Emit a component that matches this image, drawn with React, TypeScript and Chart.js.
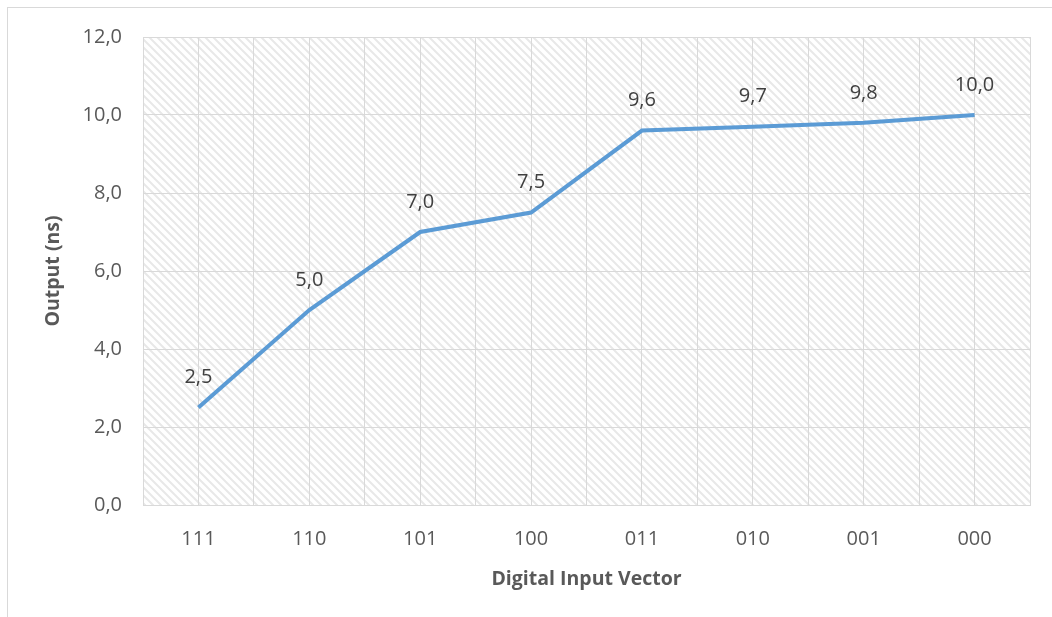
import React, { useEffect, useRef } from "react";
import { Chart, registerables } from "chart.js";

Chart.register(...registerables);

const categories = ["111", "110", "101", "100", "011", "010", "001", "000"];
const outputValues = [2.5, 5.0, 7.0, 7.5, 9.6, 9.7, 9.8, 10.0];
const yTickMin = 0;
const yTickMax = 12;
const yTickStep = 2;

const FONT = "'Open Sans', 'Noto Sans', sans-serif";
const fmt = (v: number) => v.toFixed(1).replace(".", ",");

const hatchPlugin = {
  id: "hatch",
  beforeDraw(chart: any) {
    const { ctx, chartArea } = chart;
    const tile = document.createElement("canvas");
    tile.width = 8;
    tile.height = 8;
    const t = tile.getContext("2d")!;
    t.fillStyle = "#ffffff";
    t.fillRect(0, 0, 8, 8);
    t.strokeStyle = "#e8e8e8";
    t.lineWidth = 2;
    t.beginPath();
    t.moveTo(-2, -2);
    t.lineTo(10, 10);
    t.moveTo(-2, 6);
    t.lineTo(2, 10);
    t.moveTo(6, -2);
    t.lineTo(10, 2);
    t.stroke();
    const pat = ctx.createPattern(tile, "repeat");
    ctx.save();
    ctx.fillStyle = pat;
    ctx.fillRect(chartArea.left, chartArea.top, chartArea.right - chartArea.left, chartArea.bottom - chartArea.top);
    ctx.restore();
  },
};

const labelPlugin = {
  id: "pointLabels",
  afterDatasetsDraw(chart: any) {
    const { ctx } = chart;
    const meta = chart.getDatasetMeta(0);
    ctx.save();
    ctx.font = `20px ${FONT}`;
    ctx.fillStyle = "#404040";
    ctx.textAlign = "center";
    ctx.textBaseline = "middle";
    meta.data.forEach((pt: any, i: number) => {
      ctx.fillText(fmt(outputValues[i]), pt.x, pt.y - 30);
    });
    ctx.restore();
  },
};

export default function App() {
  const ref = useRef<HTMLCanvasElement>(null);
  useEffect(() => {
    const chart = new Chart(ref.current!, {
      type: "line",
      data: {
        labels: categories,
        datasets: [
          {
            data: outputValues,
            borderColor: "#5b9bd5",
            borderWidth: 4,
            pointRadius: 0,
            fill: false,
            tension: 0,
          },
        ],
      },
      options: {
        animation: false,
        responsive: true,
        maintainAspectRatio: false,
        layout: { padding: { left: 0, right: 22, top: 37, bottom: 0 } },
        plugins: { legend: { display: false }, tooltip: { enabled: false } },
        scales: {
          x: {
            offset: true,
            grid: { display: false, drawTicks: false },
            border: { display: true, color: "#d9d9d9", width: 1 },
            ticks: { color: "#595959", font: { family: FONT, size: 20 }, padding: 22 },
            title: {
              display: true,
              text: "Digital Input Vector",
              color: "#595959",
              font: { family: FONT, size: 19.5, weight: "bold" },
              padding: { top: 8, bottom: 26 },
            },
            afterFit: (s: any) => {
              s.height = 112;
            },
          },
          xg: {
            type: "linear",
            position: "bottom",
            min: -0.5,
            max: 7.5,
            display: true,
            grid: { color: "#d9d9d9", drawTicks: false },
            border: { display: false },
            ticks: { display: false, stepSize: 0.5 },
            afterFit: (s: any) => {
              s.height = 0;
            },
          },
          y: {
            min: yTickMin,
            max: yTickMax,
            grid: { color: "#d9d9d9", drawTicks: false },
            border: { display: false },
            ticks: {
              stepSize: yTickStep,
              color: "#595959",
              font: { family: FONT, size: 20 },
              padding: 21,
              callback: (v: any) => fmt(Number(v)),
            },
            title: {
              display: true,
              text: "Output (ns)",
              color: "#595959",
              font: { family: FONT, size: 19.5, weight: "bold" },
              padding: { top: 42, bottom: 0 },
            },
            afterFit: (s: any) => {
              s.width = 143;
            },
          },
        },
      },
      plugins: [hatchPlugin, labelPlugin],
    });
    return () => chart.destroy();
  }, []);
  return (
    <div style={{ position: "fixed", left: 0, top: 0, width: 1052, height: 617, background: "#fff" }}>
      <div
        style={{
          position: "absolute",
          left: 7,
          top: 7,
          right: -10,
          bottom: -10,
          borderLeft: "1px solid #d9d9d9",
          borderTop: "1px solid #d9d9d9",
        }}
      />
      <canvas ref={ref} style={{ position: "absolute", left: 0, top: 0 }} />
    </div>
  );
}
